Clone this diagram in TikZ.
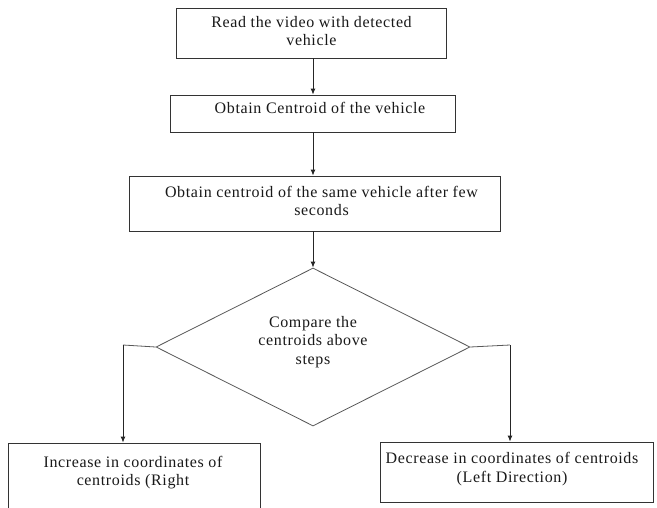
\documentclass[tikz,border=0pt]{standalone}
\usepackage{fontspec}
\setmainfont{Liberation Serif}
\newfontfamily\spaced{Liberation Serif}[LetterSpace=4]
\usetikzlibrary{shapes.geometric,arrows.meta}
\tikzset{
  boxshape/.style={draw=black!80, line width=0.8pt, rectangle, inner sep=0pt},
  dshape/.style={draw=black!65, line width=0.8pt, diamond, inner sep=0pt},
  txt/.style={align=center, inner sep=0pt, text=black!90, font=\spaced\fontsize{16}{18.5}\selectfont},
  arr/.style={draw=black!85, line width=0.9pt, -{Latex[length=6pt,width=5pt]}},
  ln/.style={draw=black!65, line width=0.8pt}
}
\begin{document}
\begin{tikzpicture}[x=1pt,y=-1pt]
\useasboundingbox[fill=white] (0,0) rectangle (657,508);
% boxes
\node[boxshape, minimum width=270pt, minimum height=50pt] (b1) at (311,33) {};
\node[boxshape, minimum width=285pt, minimum height=37pt] (b2) at (312.5,113.5) {};
\node[boxshape, minimum width=371pt, minimum height=55pt] (b3) at (314.5,203.5) {};
\node[dshape, minimum width=314pt, minimum height=158pt] (d) at (313,347) {};
\node[boxshape, minimum width=252pt, minimum height=80pt] (b4) at (134,483) {};
\node[boxshape, minimum width=273pt, minimum height=60pt] (b5) at (516.5,472) {};
% texts
\node[txt] (t1) at (311.5,31) {Read the video with detected\\vehicle};
\node[txt] (t2) at (320,108) {Obtain Centroid of the vehicle};
\node[txt] (t3) at (321.5,201) {Obtain centroid of the same vehicle after few\\seconds};
\node[txt] (td) at (313,342) {Compare the\\centroids above\\steps};
\node[txt] (t4) at (133,472.5) {Increase in coordinates of\\centroids (Right};
\node[txt] (t5) at (512,469) {Decrease in coordinates of centroids\\(Left Direction)};
% connectors
\coordinate (cx) at (313,0);
\draw[arr] (b1.south -| cx) -- (b2.north -| cx);
\draw[arr] (b2.south -| cx) -- (b3.north -| cx);
\draw[arr] (b3.south -| cx) -- (d.north);
\coordinate (lx) at (123,345);
\coordinate (rx) at (510,345);
\draw[ln] (d.west) -- (lx);
\draw[arr] (lx) -- (lx |- b4.north);
\draw[ln] (d.east) -- (rx);
\draw[arr] (rx) -- (rx |- b5.north);
\end{tikzpicture}
\end{document}
